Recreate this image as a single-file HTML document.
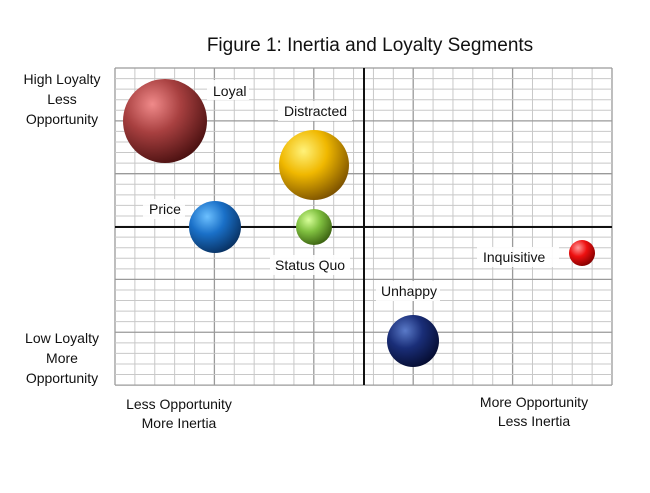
<!DOCTYPE html>
<html><head><style>
body{margin:0;background:#fff;}
svg text{font-family:"Liberation Sans Narrow","Liberation Sans",sans-serif;fill:#111;}
</style></head><body>
<svg width="650" height="488" viewBox="0 0 650 488" xmlns="http://www.w3.org/2000/svg">
<defs>
<radialGradient id="gr" cx="0.35" cy="0.3" r="0.75"><stop offset="0" stop-color="#f08a8a"/><stop offset="0.45" stop-color="#a84040"/><stop offset="1" stop-color="#4a1010"/></radialGradient>
<radialGradient id="gy" cx="0.35" cy="0.3" r="0.75"><stop offset="0" stop-color="#fff27a"/><stop offset="0.45" stop-color="#f0b800"/><stop offset="1" stop-color="#7a5000"/></radialGradient>
<radialGradient id="gb" cx="0.35" cy="0.3" r="0.75"><stop offset="0" stop-color="#6cc0ff"/><stop offset="0.45" stop-color="#1a70c8"/><stop offset="1" stop-color="#083060"/></radialGradient>
<radialGradient id="gg" cx="0.35" cy="0.3" r="0.75"><stop offset="0" stop-color="#d8ff9a"/><stop offset="0.45" stop-color="#80c040"/><stop offset="1" stop-color="#3a6010"/></radialGradient>
<radialGradient id="grr" cx="0.35" cy="0.3" r="0.75"><stop offset="0" stop-color="#ff9a9a"/><stop offset="0.45" stop-color="#ee1010"/><stop offset="1" stop-color="#800000"/></radialGradient>
<radialGradient id="gn" cx="0.35" cy="0.3" r="0.75"><stop offset="0" stop-color="#5a7ac8"/><stop offset="0.45" stop-color="#1a2e78"/><stop offset="1" stop-color="#050c30"/></radialGradient>
</defs>
<text x="370" y="51" font-size="19" text-anchor="middle">Figure 1: Inertia and Loyalty Segments</text>
<g id="grid" stroke="#c8c8c8" stroke-width="1">
</g>
<script>
var g=document.getElementById('grid'),ns='http://www.w3.org/2000/svg';
function L(x1,y1,x2,y2,c,w){var l=document.createElementNS(ns,'line');l.setAttribute('x1',x1);l.setAttribute('y1',y1);l.setAttribute('x2',x2);l.setAttribute('y2',y2);l.setAttribute('stroke',c);l.setAttribute('stroke-width',w);g.appendChild(l);}
for(var i=0;i<=25;i++){var x=115+i*19.88;L(x,68,x,385,i%5==0?'#9a9a9a':'#c8c8c8',i%5==0?1.3:1);}
for(var j=0;j<=30;j++){var y=68+j*10.57;L(115,y,612,y,j%5==0?'#9a9a9a':'#c8c8c8',j%5==0?1.3:1);}
L(115,227,612,227,'#111',2);L(364,68,364,385,'#111',2);
</script>
<g font-size="14">
<rect x="207" y="80" width="42" height="20" fill="#fff" opacity="0.9"/><text x="213" y="96">Loyal</text>
<rect x="278" y="101" width="74" height="20" fill="#fff" opacity="0.9"/><text x="284" y="116">Distracted</text>
<rect x="143" y="199" width="42" height="20" fill="#fff" opacity="0.9"/><text x="149" y="214">Price</text>
<rect x="270" y="255" width="80" height="20" fill="#fff" opacity="0.9"/><text x="275" y="270">Status Quo</text>
<rect x="376" y="281" width="64" height="20" fill="#fff" opacity="0.9"/><text x="381" y="296">Unhappy</text>
<rect x="477" y="247" width="82" height="20" fill="#fff" opacity="0.9"/><text x="483" y="262">Inquisitive</text>
</g>
<circle cx="165" cy="121" r="42" fill="url(#gr)"/>
<circle cx="314" cy="165" r="35" fill="url(#gy)"/>
<circle cx="215" cy="227" r="26" fill="url(#gb)"/>
<circle cx="314" cy="227" r="18" fill="url(#gg)"/>
<circle cx="582" cy="253" r="13" fill="url(#grr)"/>
<circle cx="413" cy="341" r="26" fill="url(#gn)"/>
<g font-size="14" text-anchor="middle">
<text x="62" y="84">High Loyalty</text><text x="62" y="104">Less</text><text x="62" y="124">Opportunity</text>
<text x="62" y="343">Low Loyalty</text><text x="62" y="363">More</text><text x="62" y="383">Opportunity</text>
<text x="179" y="409">Less Opportunity</text><text x="179" y="428">More Inertia</text>
<text x="534" y="407">More Opportunity</text><text x="534" y="426">Less Inertia</text>
</g>
</svg>
</body></html>
